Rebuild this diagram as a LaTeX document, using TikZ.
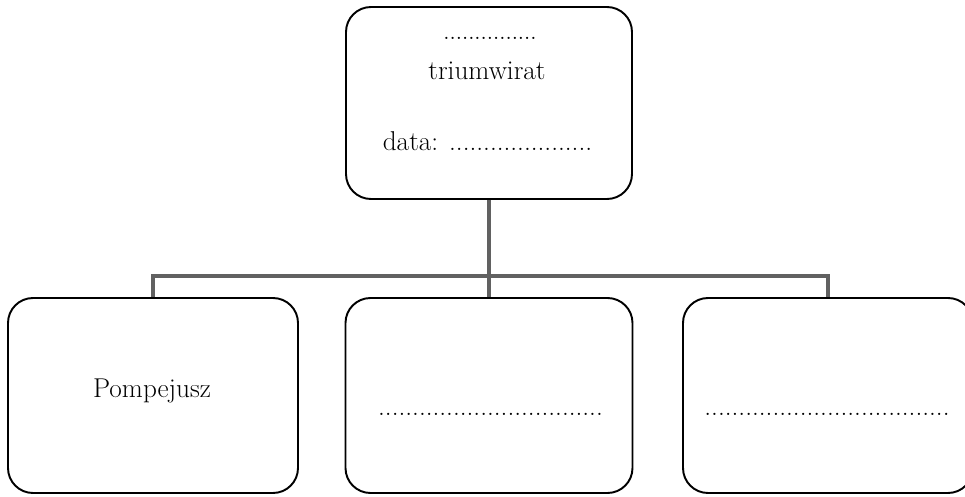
\documentclass[tikz,border=0pt]{standalone}
\begin{document}
\begin{tikzpicture}[
  box/.style={draw, line width=1.1pt, rounded corners=0.5cm, fill=white,
    minimum width=5.8cm, minimum height=3.9cm, inner sep=0pt},
  link/.style={draw=black!62, line width=2.8pt},
  txt/.style={font=\fontsize{15.5}{19}\selectfont, inner sep=0pt, anchor=base}]
\clip (0,0) rectangle (19.3,9.92);
\node[box, minimum width=5.72cm, minimum height=3.84cm] (top) at (9.78,7.86) {};
\node[box] (left) at (3.06,2.01) {};
\node[box, minimum width=5.74cm] (mid) at (9.78,2.01) {};
\node[box] (right) at (16.56,2.01) {};
\draw[link] (top.south) -- (mid.north);
\draw[link] (left.north) -- ++(0,0.42) -| (right.north);
\node[txt, font=\fontsize{13}{16}\selectfont] (topdots) at (9.8,9.12) {...............};
\node[txt] (name) at (9.74,8.32) {triumwirat};
\node[txt] (date) at (9.75,6.92) {data: .....................};
\node[txt] (pomp) at (3.04,1.98) {Pompejusz};
\node[txt] (second) at (9.81,1.62) {.................................};
\node[txt] (third) at (16.54,1.62) {....................................};
\end{tikzpicture}
\end{document}
